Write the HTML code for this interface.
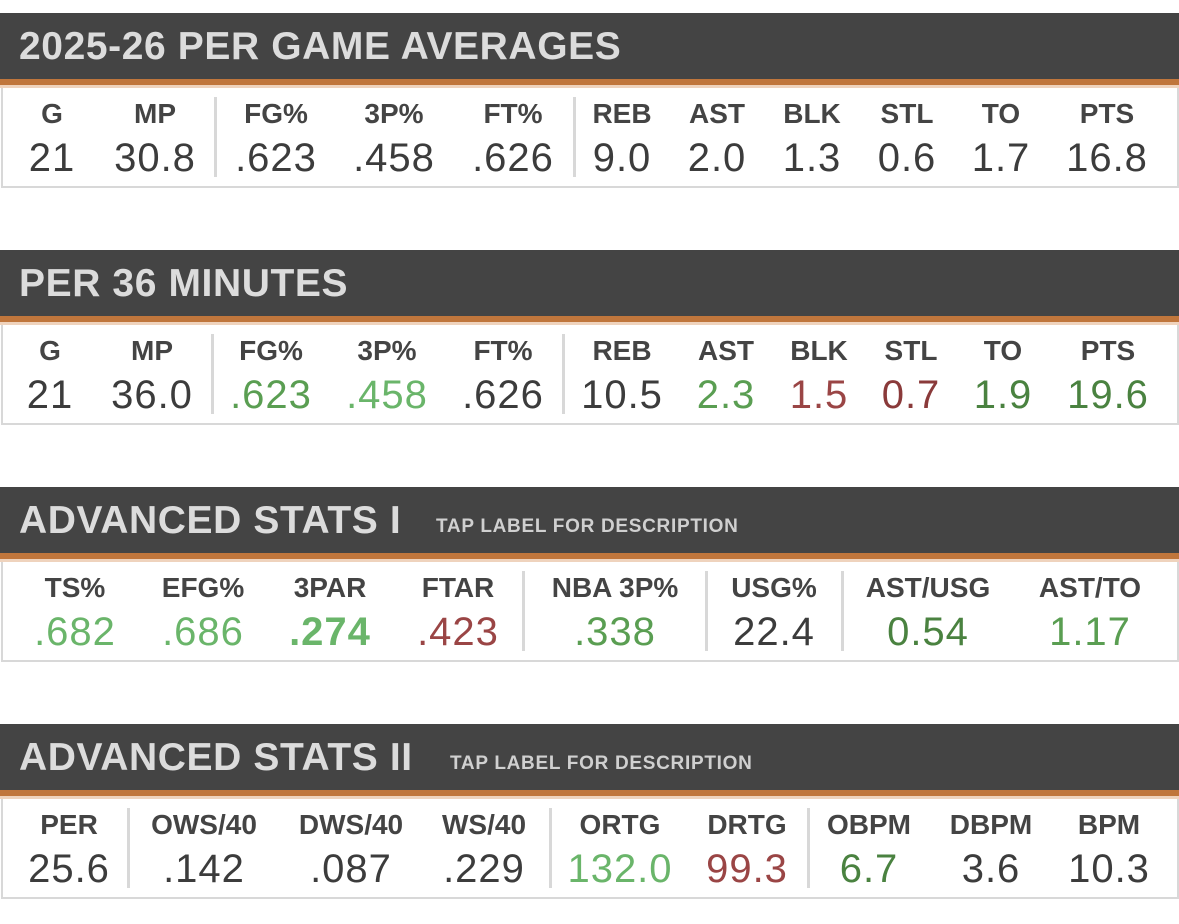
<!DOCTYPE html>
<html><head><meta charset="utf-8">
<style>
body{margin:0;width:1179px;height:924px;background:#fff;position:relative;overflow:hidden;font-family:"Liberation Sans",sans-serif;}
.hdr{position:absolute;left:0;width:1179px;height:66px;background:#444;border-bottom:6px solid #c0763c;box-sizing:content-box;}
.hdr .t{position:absolute;left:19px;top:12px;font-size:39px;font-weight:bold;color:#dcdcdc;white-space:nowrap;letter-spacing:0.6px;}
.hdr .s{position:absolute;font-size:19px;font-weight:bold;color:#d0d0d0;white-space:nowrap;letter-spacing:0.7px;}
.strip{position:absolute;left:0;width:1179px;height:3px;background:#efd3bd;}
.box{position:absolute;left:1px;width:1174px;height:98px;border:2px solid #d8d8d8;border-top:none;background:#fff;}
.lab,.val{position:absolute;transform:translateX(-50%);white-space:nowrap;}
.lab{font-size:28px;font-weight:bold;color:#444;}
.val{font-size:40px;color:#3c3c3c;letter-spacing:1px;}
.sep{position:absolute;width:3px;height:80px;background:#d8d8d8;}
</style></head><body>
<div id="root"></div>
<script>
const sections=[
 {top:13,title:"2025-26 PER GAME AVERAGES",sub:null,
  cells:[["G","21",52],["MP","30.8",155],["FG%",".623",276],["3P%",".458",394],["FT%",".626",513],["REB","9.0",622],["AST","2.0",717],["BLK","1.3",812],["STL","0.6",907],["TO","1.7",1001],["PTS","16.8",1107]],
  seps:[215,574],colors:{}},
 {top:250,title:"PER 36 MINUTES",sub:null,
  cells:[["G","21",50],["MP","36.0",152],["FG%",".623",271],["3P%",".458",387],["FT%",".626",503],["REB","10.5",622],["AST","2.3",726],["BLK","1.5",819],["STL","0.7",911],["TO","1.9",1003],["PTS","19.6",1108]],
  seps:[212,563],colors:{2:"#5a9e52",3:"#6ab56a",6:"#5a9e52",7:"#9a4545",8:"#8a3a3a",9:"#4a8240",10:"#4a8240"}},
 {top:487,title:"ADVANCED STATS I",sub:[436,"TAP LABEL FOR DESCRIPTION"],
  cells:[["TS%",".682",75],["EFG%",".686",203],["3PAR",".274",330],["FTAR",".423",458],["NBA 3P%",".338",615],["USG%","22.4",774],["AST/USG","0.54",928],["AST/TO","1.17",1090]],
  seps:[523,706,842],colors:{0:"#6ab56a",1:"#6ab56a",2:"#6ab56a",3:"#9a4545",4:"#5a9e52",6:"#4a8240",7:"#5a9e52"},bold:{2:1}},
 {top:724,title:"ADVANCED STATS II",sub:[450,"TAP LABEL FOR DESCRIPTION"],
  cells:[["PER","25.6",69],["OWS/40",".142",204],["DWS/40",".087",351],["WS/40",".229",484],["ORTG","132.0",620],["DRTG","99.3",747],["OBPM","6.7",869],["DBPM","3.6",991],["BPM","10.3",1109]],
  seps:[128,550,808],colors:{4:"#6ab56a",5:"#9a4545",6:"#4a8240"}}
];
const root=document.getElementById('root');
sections.forEach((s,si)=>{
  const h=document.createElement('div');h.className='hdr';h.style.top=s.top+'px';
  
  
  const t=document.createElement('div');t.className='t';t.textContent=s.title;
  
  
  h.appendChild(t);
  if(s.sub){const u=document.createElement('div');u.className='s';u.style.left=s.sub[0]+'px';u.style.top='29px';u.textContent=s.sub[1];
    
    
    h.appendChild(u);}
  root.appendChild(h);
  const st=document.createElement('div');st.className='strip';st.style.top=(s.top+72)+'px';
  
  
  root.appendChild(st);
  const b=document.createElement('div');b.className='box';b.style.top=(s.top+75)+'px';
  
  
  root.appendChild(b);
  s.seps.forEach(x=>{const d=document.createElement('div');d.className='sep';d.style.left=(x-1)+'px';d.style.top=(s.top+84)+'px';
    
    
    root.appendChild(d);});
  s.cells.forEach((c,i)=>{
    const l=document.createElement('div');l.className='lab';l.textContent=c[0];l.style.left=c[2]+'px';l.style.top=(s.top+85)+'px';
    
    
    root.appendChild(l);
    const v=document.createElement('div');v.className='val';v.textContent=c[1];v.style.left=c[2]+'px';v.style.top=(s.top+123)+'px';
    if(s.colors[i])v.style.color=s.colors[i];
    if(s.bold&&s.bold[i])v.style.fontWeight='bold';
    
    
    root.appendChild(v);
  });
});
</script>
</body></html>
